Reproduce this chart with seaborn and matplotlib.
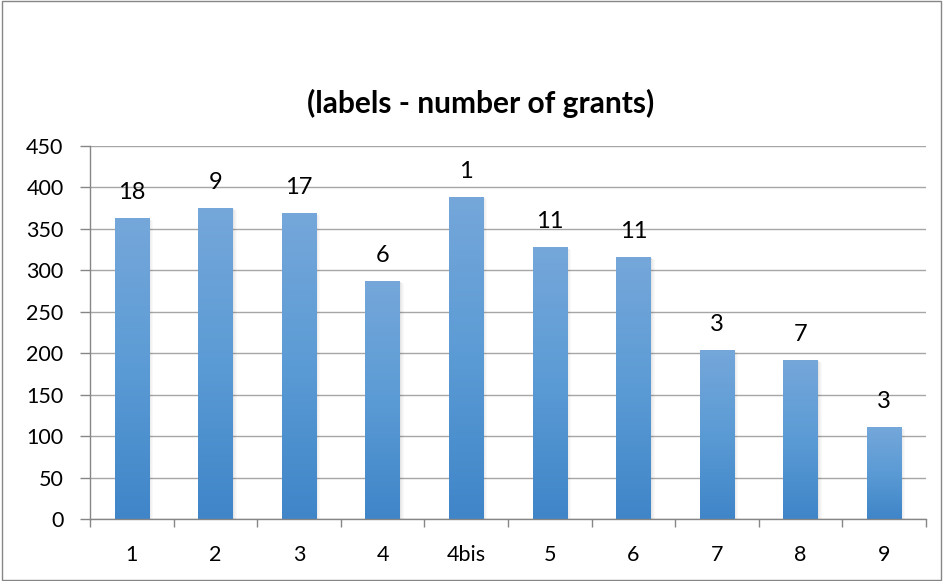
import numpy as np
import pandas as pd
import matplotlib
matplotlib.use("Agg")
import matplotlib.pyplot as plt
import seaborn as sns
from matplotlib.colors import LinearSegmentedColormap
from matplotlib.patches import Rectangle

categories = ["1", "2", "3", "4", "4bis", "5", "6", "7", "8", "9"]
values = [363, 375, 369, 287, 389, 328, 316, 204, 192, 111]
grant_labels = ["18", "9", "17", "6", "1", "11", "11", "3", "7", "3"]
title = "(labels - number of grants)"

sns.set_theme(style="white")
plt.rcParams["font.family"] = ["Lato", "DejaVu Sans"]
plt.rcParams["text.color"] = "#000000"

df = pd.DataFrame({"cat": categories, "val": values})

fig = plt.figure(figsize=(9.43, 5.81), dpi=100)
ax = fig.add_axes([0.0954, 0.1067, 0.8866, 0.642])

sns.barplot(data=df, x="cat", y="val", ax=ax, color="#5B9BD5", width=0.41,
            saturation=1, edgecolor="none")

ax.set_ylim(0, 450)
ax.set_xlim(-0.5, len(categories) - 0.5)
ax.set_yticks(np.arange(0, 451, 50))
ax.yaxis.grid(True, color="#A6A6A6", linewidth=1)
ax.set_axisbelow(True)
ax.set_xlabel("")
ax.set_ylabel("")

# gradient fill on bars + soft shadow
cmap = LinearSegmentedColormap.from_list("g", ["#3F85C8", "#5B9BD5", "#75A7DA"])
grad = np.linspace(0, 1, 256).reshape(-1, 1)
px = 1.0 / 83.6  # one pixel in x data units
for p in list(ax.patches):
    x0, y0 = p.get_x(), p.get_y()
    w, h = p.get_width(), p.get_height()
    for k, a in enumerate([0.10, 0.07, 0.045, 0.025]):
        sh = Rectangle((x0 + w + k * px, y0), px, h - 1.5 - k * 0.6, facecolor="#000000",
                       alpha=a, edgecolor="none", zorder=1.5)
        ax.add_patch(sh)
    im = ax.imshow(grad, extent=[x0, x0 + w, y0, y0 + h], origin="lower",
                   cmap=cmap, aspect="auto", zorder=2)
    im.set_clip_path(p)
    p.set_zorder(2)

for i, (v, lab) in enumerate(zip(values, grant_labels)):
    ax.annotate(lab, (i, v), xytext=(0, 19), textcoords="offset pixels",
                ha="center", va="baseline", fontsize=17, color="#000000")

for s in ["top", "right"]:
    ax.spines[s].set_visible(False)
for s in ["left", "bottom"]:
    ax.spines[s].set_color("#868686")
    ax.spines[s].set_linewidth(1)

ax.set_xticks(np.arange(len(categories)))
ax.set_xticklabels(categories)
ax.set_xticks(np.arange(-0.5, len(categories)), minor=True)
ax.tick_params(axis="x", which="major", length=0, pad=19, labelsize=15.5, colors="#000000")
ax.tick_params(axis="x", which="minor", length=6, color="#868686", width=1, direction="out", bottom=True)
ax.tick_params(axis="y", which="major", length=7, color="#868686", width=1, direction="out",
               left=True, labelsize=15.5, pad=12, colors="#000000")
for t in ax.get_xticklabels() + ax.get_yticklabels():
    t.set_color("#000000")

fig.text(0.51, 0.822, title, ha="center", va="center", fontsize=21.5,
         fontweight="bold", color="#000000")

border = Rectangle((0.002, 0.002), 0.996, 0.996, transform=fig.transFigure,
                   fill=False, edgecolor="#868686", linewidth=1)
fig.patches.append(border)

fig.savefig("out.png", dpi=100)
